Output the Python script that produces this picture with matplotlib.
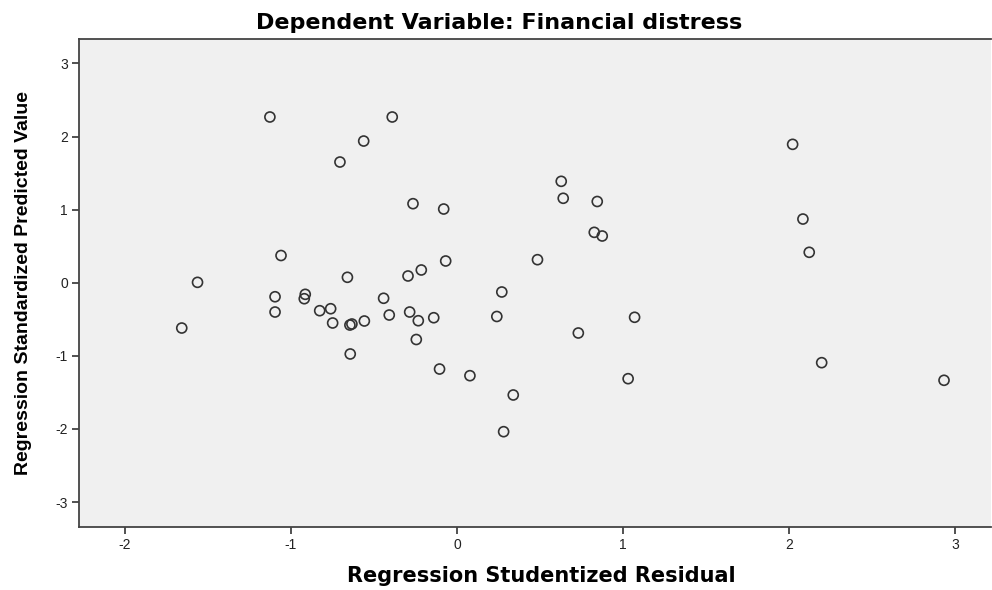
import numpy as np
import matplotlib
matplotlib.use("Agg")
import matplotlib.pyplot as plt

# Regression Studentized Residual (x) / Regression Standardized Predicted Value (y)
resid = [-1.127, -0.390, -0.562, -0.705, -1.060, -0.660, -0.265, -0.080, -0.068, -0.215,
         -0.295, -1.563, -1.658, -1.096, -1.096, -0.914, -0.920, -0.827, -0.761, -0.749,
         -0.645, -0.633, -0.558, -0.442, -0.408, -0.285, -0.233, -0.140, -0.245, -0.643,
         -0.105, 0.078, 0.339, 0.281, 0.240, 0.270, 0.485, 0.628, 0.640, 0.845,
         0.827, 0.875, 0.731, 1.070, 1.031, 2.022, 2.084, 2.122, 2.197, 2.934]
pred = [2.267, 2.267, 1.938, 1.651, 0.372, 0.074, 1.081, 1.008, 0.297, 0.174,
        0.092, 0.005, -0.620, -0.192, -0.401, -0.159, -0.219, -0.383, -0.356, -0.551,
        -0.579, -0.565, -0.524, -0.213, -0.442, -0.401, -0.520, -0.479, -0.777, -0.975,
        -1.181, -1.272, -1.536, -2.038, -0.462, -0.127, 0.315, 1.387, 1.155, 1.111,
        0.689, 0.639, -0.688, -0.473, -1.313, 1.893, 0.871, 0.416, -1.094, -1.335]

xticks = [-2, -1, 0, 1, 2, 3]
yticks = [-3, -2, -1, 0, 1, 2, 3]

plt.rcParams['font.family'] = ['Liberation Sans', 'DejaVu Sans']
plt.rcParams['axes.unicode_minus'] = False

fig = plt.figure(figsize=(9.92, 5.9), dpi=100)
ax = fig.add_axes([79 / 992, 63 / 590, 912 / 992, 488 / 590])
ax.set_facecolor('#f0f0f0')

ax.scatter(resid, pred, s=52, facecolors='none', edgecolors='#333333', linewidths=1.2, zorder=3)

ax.set_xlim(-2.277, 3.217)
ax.set_ylim(-3.342, 3.334)
ax.set_xticks(xticks)
ax.set_yticks(yticks)
ax.tick_params(direction='out', length=5, width=1.2, color='#333333', labelsize=10,
               labelcolor='#222222', pad=3)

for side in ['left', 'bottom', 'top']:
    ax.spines[side].set_color('#444444')
    ax.spines[side].set_linewidth(1.3)
ax.spines['right'].set_visible(False)

fig.text(0.503, 0.961, 'Dependent Variable: Financial distress', ha='center', va='center',
         fontsize=16, fontweight='bold', family='DejaVu Sans')
ax.set_xlabel('Regression Studentized Residual', fontsize=15, fontweight='bold',
              family='DejaVu Sans', labelpad=10)
ax.xaxis.label.set_x(0.507)
ax.set_ylabel('Regression Standardized Predicted Value', fontsize=14, fontweight='bold',
              labelpad=17)

fig.savefig('out.png', dpi=100)
